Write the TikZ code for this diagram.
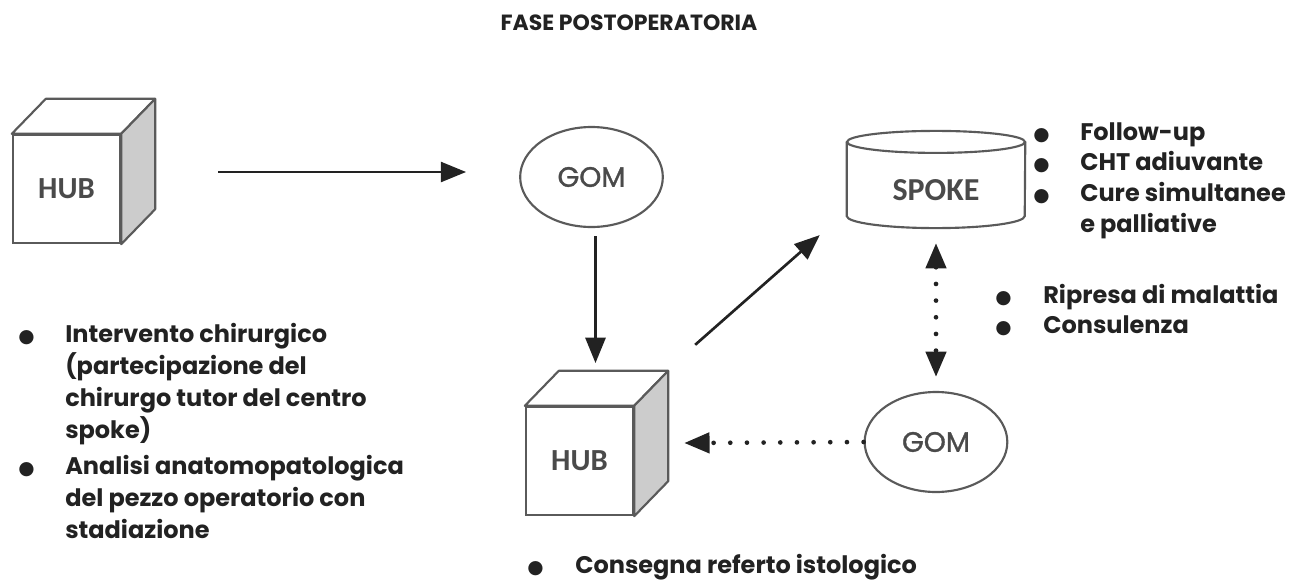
\documentclass[tikz,border=0pt]{standalone}
\usepackage{fontspec}
\setmainfont{Poppins}
\newfontfamily\carl{Carlito}
\newfontfamily\djv{DejaVu Sans}
\newfontfamily\gomfont[AutoFakeBold=1.2]{Poppins}
\usetikzlibrary{shapes.geometric,arrows.meta,calc}
\definecolor{txt}{HTML}{222222}
\definecolor{edge}{HTML}{5A5A5A}
\definecolor{side}{HTML}{CCCCCC}
\definecolor{lbl}{HTML}{4A4A4A}
\newcommand{\bul}{{\djv\fontsize{14}{14}\selectfont ●}}
\begin{document}
\begin{tikzpicture}[x=0.75pt,y=-0.75pt,
  face/.style={draw=edge,line width=1.8pt,fill=white,minimum width=80.25pt,minimum height=81pt,inner sep=0pt,
    font=\carl\bfseries\fontsize{23}{26}\selectfont,text=lbl},
  gomnode/.style={ellipse,draw=edge,line width=1.6pt,minimum width=107pt,minimum height=75pt,inner sep=0pt,
    font=\gomfont\bfseries\fontsize{21}{24}\selectfont,text=lbl},
  drum/.style={inner sep=0pt,minimum width=133.5pt,minimum height=56pt,
    font=\carl\bfseries\fontsize{24}{28}\selectfont,text=lbl},
  shell/.style={draw=edge,line width=1.6pt},
  arr/.style={draw=txt,line width=2pt,-{Triangle[length=19pt,width=15pt]}},
  dotline/.style={draw=txt,line width=3.5pt,line cap=round,dash pattern=on 0pt off 12.5pt},
  tipend/.style={-{Triangle[length=19pt,width=15pt]}},
  tipboth/.style={{Triangle[length=19pt,width=15pt]}-{Triangle[length=19pt,width=15pt]}},
  list/.style={anchor=base west,inner sep=0pt,text=txt,font=\bfseries\fontsize{18}{24}\selectfont,align=left},
]
\path[use as bounding box] (0,0) rectangle (1297,586);

% title
\node[anchor=base,inner sep=0pt,text=txt,font=\bfseries\fontsize{16.5}{18}\selectfont] (title) at (629,30) {FASE POSTOPERATORIA};

% HUB cube 1
\node[face] (hub1) at (66.5,189) {HUB};
\draw[shell,fill=white,line join=round] (hub1.north west) -- ++(34,-35) -- ($(hub1.north east)+(34,-35)$) -- (hub1.north east) -- cycle;
\draw[shell,fill=side,line join=round] (hub1.north east) -- ++(34,-35) -- ($(hub1.south east)+(34,-35)$) -- (hub1.south east) -- cycle;

% HUB cube 2
\node[face] (hub2) at (579.5,461) {HUB};
\draw[shell,fill=white,line join=round] (hub2.north west) -- ++(34,-35) -- ($(hub2.north east)+(34,-35)$) -- (hub2.north east) -- cycle;
\draw[shell,fill=side,line join=round] (hub2.north east) -- ++(34,-35) -- ($(hub2.south east)+(34,-35)$) -- (hub2.south east) -- cycle;

% GOM ellipses
\node[gomnode] (gom1) at (591.5,177) {GOM};
\node[gomnode] (gom2) at (936,442) {GOM};

% SPOKE cylinder
\node[drum] (spoke) at (936,190.5) {SPOKE};
\draw[shell] ($(spoke.north)+(0,-11)$) ellipse [x radius=89, y radius=11];
\draw[shell] ($(spoke.north west)+(0,-11)$) -- ($(spoke.south west)+(0,-12)$)
  arc[start angle=180,end angle=0,x radius=89,y radius=12]
  -- ($(spoke.north east)+(0,-11)$);

% connectors
\draw[arr] ($(hub1.east)+(97,-17)$) -- ($(gom1.west)+(-53,-5)$);
\draw[arr] ($(gom1.south)+(4,8)$) -- ($(gom1.south)+(4,135)$);
\draw[arr] ($(hub2.north east)+(61,-61)$) -- ($(spoke.south west)+(-27,7)$);
\draw[dotline,tipend] (gom2.west) -- ($(hub2.east)+(50,-18)$);
\draw[dotline,tipboth] ($(spoke.south)+(0,15)$) -- ($(gom2.north)+(0,-14)$);

% lists
\node[list] (lleft) at (18,342) {\begin{tabular}[t]{@{}p{35.25pt}@{}l@{}}
\bul & Intervento chirurgico\\
 & (partecipazione del\\
 & chirurgo tutor del centro\\
 & spoke)\\[3.5pt]
\bul & Analisi anatomopatologica\\
 & del pezzo operatorio con\\
 & stadiazione
\end{tabular}};

\node[list,font=\bfseries\fontsize{18}{23}\selectfont] (lspoke) at (1033,140) {\begin{tabular}[t]{@{}p{35.25pt}@{}l@{}}
\bul & Follow-up\\
\bul & CHT adiuvante\\
\bul & Cure simultanee\\
 & e palliative
\end{tabular}};

\node[list,font=\bfseries\fontsize{18}{22.5}\selectfont] (lrip) at (995,303) {\begin{tabular}[t]{@{}p{36pt}@{}l@{}}
\bul & Ripresa di malattia\\
\bul & Consulenza
\end{tabular}};

\node[list] (lbottom) at (527,573) {\begin{tabular}[t]{@{}p{36pt}@{}l@{}}
\bul & Consegna referto istologico
\end{tabular}};
\end{tikzpicture}
\end{document}
